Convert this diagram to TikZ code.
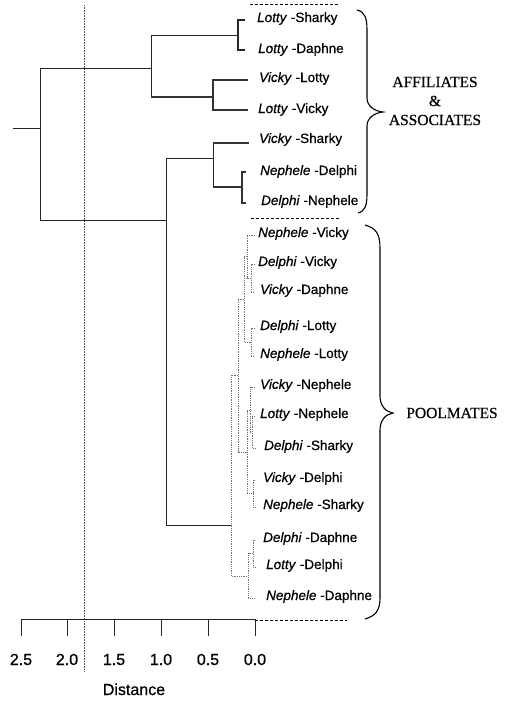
\documentclass[tikz,border=0pt]{standalone}
\usepackage{fontspec}
\setmainfont{Liberation Sans}[FakeBold=0.7]
\newfontfamily\grpfont{Liberation Serif}[FakeBold=0.5]
\begin{document}
\begin{tikzpicture}[x=1pt,y=-1pt,
  tree/.style={line width=0.7pt, black!85},
  heavy/.style={line width=1.7pt, black!80},
  twig/.style={line width=1.1pt, black!85},
  faint/.style={line width=0.8pt, black!55, densely dotted},
  refline/.style={line width=0.6pt, black!70, densely dotted},
  sep/.style={line width=0.7pt, dash pattern=on 3pt off 2pt},
  brace/.style={line width=1.1pt},
  leaf/.style={anchor=base west, inner sep=0pt, font=\fontsize{13.5}{15}\selectfont},
  group/.style={align=center, inner sep=0pt, font=\grpfont\fontsize{15.5}{19}\selectfont},
  ticklab/.style={anchor=base, inner sep=0pt, font=\fontsize{16}{18}\selectfont}]
\useasboundingbox (0,0) rectangle (505,702);

% distance threshold
\draw[refline] (84,5) -- (84,671);

% ---- affiliates & associates ----
\node[leaf] (ls) at (257,22)  {\textit{Lotty} -Sharky};
\node[leaf] (ld) at (258,53)  {\textit{Lotty} -Daphne};
\node[leaf] (vl) at (259,82)  {\textit{Vicky} -Lotty};
\node[leaf] (lv) at (258,113) {\textit{Lotty} -Vicky};
\node[leaf] (vs) at (259,143) {\textit{Vicky} -Sharky};
\node[leaf] (nd) at (260,175) {\textit{Nephele} -Delphi};
\node[leaf] (dn) at (261,205) {\textit{Delphi} -Nephele};

% ---- poolmates ----
\node[leaf] (nv) at (258,237) {\textit{Nephele} -Vicky};
\node[leaf] (dv) at (258,266) {\textit{Delphi} -Vicky};
\node[leaf] (vd) at (260,294) {\textit{Vicky} -Daphne};
\node[leaf] (dl) at (260,330) {\textit{Delphi} -Lotty};
\node[leaf] (nl) at (260,358) {\textit{Nephele} -Lotty};
\node[leaf] (vn) at (260,389) {\textit{Vicky} -Nephele};
\node[leaf] (ln) at (260,418) {\textit{Lotty} -Nephele};
\node[leaf] (ds) at (264,450) {\textit{Delphi} -Sharky};
\node[leaf] (ve) at (263,482) {\textit{Vicky} -Delphi};
\node[leaf] (ns) at (263,509) {\textit{Nephele} -Sharky};
\node[leaf] (dd) at (263,542) {\textit{Delphi} -Daphne};
\node[leaf] (le) at (266,569) {\textit{Lotty} -Delphi};
\node[leaf] (nh) at (266,600) {\textit{Nephele} -Daphne};

% group separators
\draw[sep] (250,4) -- (340,4);
\draw[sep] (251,218) -- (340,218);

% ---- upper clusters ----
\draw[tree] (13,128) -- (40,128);
\draw[tree] (151,68) -- (40,68) -- (40,220) -- (166,220);
\draw[tree] (238,35) -- (151,35) -- (151,97);
\draw[heavy] (151,97) -- (213,97);
\draw[twig] (245,20) -- (238,20) -- (238,50) -- (245,50);
\draw[heavy] (248,80) -- (213,80) -- (213,110) -- (248,110);
\draw[tree] (166,158) -- (213,158);
\draw[tree] (213,143) -- (213,187);
\draw[heavy] (213,143) -- (249,143);
\draw[heavy] (213,187) -- (242,187);
\draw[heavy] (246,172) -- (242,172) -- (242,203) -- (246,203);
\draw[tree] (166,158) -- (166,525) -- (231,525);

% ---- lower clusters ----
\draw[faint] (255,264) -| (251,292) -- (255,292);
\draw[faint] (255,235) -| (247,278) -- (251,278);
\draw[faint] (255,328) -| (251,356) -- (255,356);
\draw[faint] (247,256) -| (244,342) -- (251,342);
\draw[faint] (255,416) -| (252,448) -- (255,448);
\draw[faint] (255,387) -| (250,432) -- (252,432);
\draw[faint] (255,480) -| (253,507) -- (255,507);
\draw[faint] (250,410) -| (247,493) -- (253,493);
\draw[faint] (244,299) -| (238,452) -- (247,452);
\draw[faint] (255,540) -| (253,567) -- (255,567);
\draw[faint] (253,553) -| (248,598) -- (255,598);
\draw[faint] (238,375) -| (231,576) -- (248,576);

% ---- braces and group names ----
\draw[brace] (357,10) .. controls (365,12) and (367,18) .. (367,30)
  -- (367,98) .. controls (367,106) and (374,111) .. (383,112)
  .. controls (374,113) and (367,118) .. (367,126)
  -- (367,194) .. controls (367,206) and (365,211) .. (358,213);
\node[group] (aff) at (435,101) {AFFILIATES\\\&\\ASSOCIATES};

\draw[brace] (365,225) .. controls (376,228) and (380,234) .. (380,248)
  -- (380,396) .. controls (380,406) and (386,412) .. (393,413)
  .. controls (386,414) and (380,420) .. (380,430)
  -- (380,598) .. controls (380,611) and (375,616) .. (365,619);
\node[group] (pool) at (452,413) {POOLMATES};

% ---- distance axis ----
\draw[tree] (21,619) -- (255,619);
\foreach \x/\l [count=\i] in {21/2.5, 67/2.0, 114/1.5, 161/1.0, 208/0.5, 255/0.0} {
  \draw[tree] (\x,619) -- (\x,636);
  \node[ticklab] (tick\i) at (\x,665) {\l};
}
\draw[sep] (255,620) -- (347,620);
\node[ticklab] (dist) at (134,695) {Distance};
\end{tikzpicture}
\end{document}
